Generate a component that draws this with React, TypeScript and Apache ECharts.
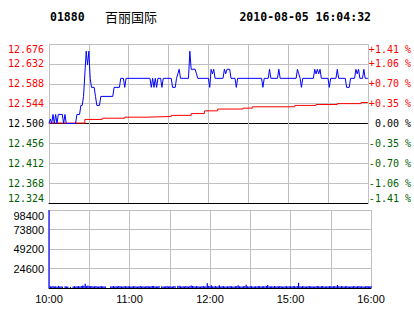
import React, { useEffect, useRef } from 'react';
import * as echarts from 'echarts';

const stockCode = '01880';
const stockName = '百丽国际';
const timestamp = '2010-08-05 16:04:32';

// top-to-bottom tick labels of the price panel
const priceTickLabels = ['12.676', '12.632', '12.588', '12.544', '12.500', '12.456', '12.412', '12.368', '12.324'];
const pctTickLabels = ['+1.41 %', '+1.06 %', '+0.70 %', '+0.35 %', '\u00a00.00 %', '-0.35 %', '-0.70 %', '-1.06 %', '-1.41 %'];
// one label per half-hour tick (minutes since open)
const timeTickLabels = ['10:00', '', '11:00', '', '12:00', '', '15:00', '', '16:00'];

const priceMin = 12.324;
const priceMax = 12.676;
const volMax = 98400;
const volStep = 24600;
const sessionMinutes = 240;

// [minute, price]
const priceLine: [number, number][] = [
  [0, 12.50], [1, 12.51], [2, 12.50], [3, 12.52], [4, 12.50], [5, 12.52], [6, 12.50], [7, 12.52],
  [10, 12.52], [11, 12.50], [12, 12.52], [13, 12.50], [20, 12.50], [21, 12.52], [23, 12.52],
  [24, 12.54], [25, 12.54], [26, 12.56], [27, 12.61], [28, 12.66], [29, 12.63], [30, 12.66],
  [31, 12.60], [32, 12.58], [34, 12.58], [35, 12.56], [36, 12.54], [38, 12.54], [39, 12.56],
  [48, 12.56], [49, 12.58], [53, 12.58], [54, 12.60], [56, 12.60], [57, 12.58], [58, 12.60],
  [76, 12.60], [77, 12.58], [78, 12.60], [79, 12.58], [80, 12.60], [81, 12.58], [82, 12.60],
  [84, 12.60], [85, 12.58], [86, 12.60], [92, 12.60], [93, 12.58], [95, 12.58], [96, 12.60],
  [97, 12.61], [98, 12.62], [99, 12.60], [105, 12.60], [106, 12.66], [107, 12.62], [110, 12.62],
  [111, 12.61], [112, 12.60], [120, 12.60], [121, 12.58], [122, 12.62], [123, 12.61], [124, 12.62],
  [125, 12.60], [131, 12.60], [132, 12.62], [133, 12.61], [134, 12.62], [136, 12.62], [137, 12.60],
  [140, 12.60], [141, 12.58], [142, 12.60], [160, 12.60], [161, 12.58], [162, 12.60], [165, 12.60],
  [166, 12.62], [167, 12.60], [172, 12.60], [173, 12.62], [174, 12.60], [186, 12.60], [187, 12.62],
  [188, 12.61], [189, 12.60], [190, 12.58], [191, 12.60], [199, 12.60], [200, 12.62], [201, 12.61],
  [202, 12.62], [203, 12.61], [204, 12.62], [205, 12.60], [210, 12.60], [211, 12.58], [212, 12.60],
  [216, 12.60], [217, 12.62], [218, 12.60], [223, 12.60], [224, 12.58], [226, 12.58], [227, 12.60],
  [230, 12.60], [231, 12.62], [232, 12.61], [233, 12.62], [234, 12.60], [236, 12.60], [237, 12.62],
  [238, 12.60], [240, 12.60],
];

// [minute, average price]
const avgLine: [number, number][] = [
  [0, 12.501], [27, 12.509], [40, 12.5117], [57, 12.514], [73, 12.5155], [92, 12.518],
  [107, 12.522], [117, 12.528], [127, 12.532], [146, 12.534], [153, 12.537], [185, 12.540],
  [201, 12.542], [217, 12.544], [235, 12.5465], [240, 12.5465],
];

// per-minute volume
const volumes: number[] = [
  98400, 2200, 1800, 2400, 2000, 2200, 1600, 2400, 2000, 2200, 1800, 0, 2200, 2000, 1800, 0, 1500, 0, 2000, 2400,
  1800, 2200, 2400, 2000, 2600, 3000, 2800, 5500, 2400, 3000, 2600, 2200, 2400, 2000, 2200, 2400, 1800, 2000, 2200, 2400,
  2000, 2200, 1800, 0, 0, 0, 2200, 2000, 2400, 1800, 2200, 2000, 2400, 2200, 2000, 1800, 2200, 2400, 2000, 2200,
  2200, 1800, 2000, 2400, 2200, 2000, 1800, 2200, 2400, 2000, 2200, 1800, 2000, 2400, 2200, 2000, 2200, 2600, 2400, 2000,
  2200, 2000, 2400, 0, 2200, 2000, 1800, 2200, 2400, 2000, 2200, 2000, 1800, 2400, 2200, 0, 2600, 2800, 2200, 2000,
  2200, 2000, 2400, 2200, 1800, 2400, 3200, 2600, 2200, 2000, 2400, 2200, 1800, 2000, 2200, 2400, 2000, 2200, 6000, 2400,
  2200, 3500, 2200, 2000, 2400, 1800, 2200, 3500, 2000, 2200, 2400, 2000, 1800, 2200, 2000, 2400, 2200, 2000, 1800, 2200,
  2400, 3500, 2200, 2000, 1800, 2200, 2400, 4200, 2200, 2000, 2200, 2400, 2000, 1800, 2200, 2000, 2400, 2200, 2000, 2200,
  2200, 2000, 2400, 3800, 2200, 2000, 2200, 1800, 2400, 2000, 2200, 2000, 2400, 2200, 1800, 2000, 2200, 2400, 2000, 2200,
  2200, 2000, 2400, 2200, 2000, 2400, 6500, 2200, 2000, 2400, 2200, 1800, 2000, 2200, 2400, 2000, 2200, 1800, 2000, 2200,
  2400, 2200, 2000, 2200, 2400, 2000, 1800, 2200, 2000, 2400, 2200, 2000, 2200, 2400, 2000, 3800, 2200, 2000, 2400, 2200,
  2000, 2200, 2400, 2000, 1800, 2200, 2000, 2400, 2200, 2000, 2200, 2400, 2000, 2200, 1800, 2000, 2200, 2400, 2200, 2000,
  2400,
];

const GRAY = '#c0c0c0';
const RED = '#ff0000';
const GREEN = '#006000';
const BLUE = '#0000ff';
const MONO = '"DejaVu Sans Mono", monospace';
const SANS = '"Liberation Sans", Arial, sans-serif';

const levelColor = (v: any) => {
  const n = Number(v);
  return n > 4 ? RED : n === 4 ? '#000000' : GREEN;
};

export default function App() {
  const ref = useRef<HTMLDivElement>(null);
  useEffect(() => {
    if (!ref.current) return;
    const chart = echarts.init(ref.current, null, { renderer: 'svg' });
    const steps = priceTickLabels.length - 1;
    chart.setOption({
      animation: false,
      backgroundColor: '#ffffff',
      grid: [
        { left: 49, right: 43, top: 44, height: 159 },
        { left: 49, right: 43, top: 210, height: 78 },
      ],
      xAxis: [
        {
          gridIndex: 0, type: 'value', min: 0, max: sessionMinutes, interval: 30,
          axisLine: { show: true, onZero: false, lineStyle: { color: '#000', width: 1 } },
          axisTick: { show: false }, axisLabel: { show: false },
          splitLine: { show: true, lineStyle: { color: GRAY, width: 1 } },
        },
        {
          gridIndex: 1, type: 'value', min: 0, max: sessionMinutes, interval: 30,
          axisLine: { show: true, onZero: false, lineStyle: { color: '#000', width: 1 } },
          axisTick: { show: false },
          axisLabel: {
            show: true, color: '#000', fontFamily: SANS, fontSize: 11, margin: 5,
            showMinLabel: true, showMaxLabel: true, hideOverlap: false,
            formatter: (v: number) => timeTickLabels[Math.round(v / 30)] ?? '',
          },
          splitLine: { show: true, lineStyle: { color: GRAY, width: 1 } },
        },
      ],
      yAxis: [
        {
          gridIndex: 0, type: 'value', position: 'left', min: 0, max: steps, interval: 1,
          axisLine: { show: false }, axisTick: { show: false },
          axisLabel: {
            fontFamily: MONO, fontSize: 10, margin: 5, color: levelColor,
            verticalAlignMinLabel: 'bottom', verticalAlignMaxLabel: 'top',
            formatter: (v: number) => priceTickLabels[steps - Math.round(v)],
          },
          splitLine: {
            show: true,
            lineStyle: { width: 1, color: ['#000000', GRAY, GRAY, GRAY, '#000000', GRAY, GRAY, GRAY, GRAY] },
          },
        },
        {
          gridIndex: 0, type: 'value', position: 'right', min: 0, max: steps, interval: 1,
          axisLine: { show: false }, axisTick: { show: false },
          axisLabel: {
            fontFamily: MONO, fontSize: 10, margin: 1, color: levelColor,
            verticalAlignMinLabel: 'bottom', verticalAlignMaxLabel: 'top',
            formatter: (v: number) => pctTickLabels[steps - Math.round(v)],
          },
          splitLine: { show: false },
        },
        { gridIndex: 0, type: 'value', show: false, min: priceMin, max: priceMax },
        {
          gridIndex: 1, type: 'value', min: 0, max: volMax, interval: volStep,
          axisLine: { show: false }, axisTick: { show: false },
          axisLabel: {
            fontFamily: SANS, fontSize: 11, margin: 5, color: '#000',
            verticalAlignMaxLabel: 'top',
            formatter: (v: number) => (v === 0 ? '' : String(v)),
          },
          splitLine: { show: true, lineStyle: { color: GRAY, width: 1 } },
        },
      ],
      series: [
        {
          type: 'line', xAxisIndex: 0, yAxisIndex: 2, data: avgLine, step: 'end',
          symbol: 'none', lineStyle: { color: RED, width: 1 }, z: 3,
        },
        {
          type: 'line', xAxisIndex: 0, yAxisIndex: 2, data: priceLine,
          symbol: 'none', lineStyle: { color: BLUE, width: 1 }, z: 4,
        },
        {
          type: 'bar', xAxisIndex: 1, yAxisIndex: 3, barWidth: 1.2, clip: false,
          data: volumes.map((v, i) => [i, v]),
          itemStyle: { color: BLUE },
        },
      ],
      graphic: [
        {
          type: 'text', x: 50, y: 17,
          style: { text: stockCode, font: `bold 11.5px ${MONO}`, fill: '#000', verticalAlign: 'middle', align: 'left' },
        },
        {
          type: 'text', x: 105, y: 16,
          style: { text: stockName, font: '13px "Noto Sans CJK SC"', fill: '#000', verticalAlign: 'middle', align: 'left' },
        },
        {
          type: 'text', x: 371, y: 17,
          style: { text: timestamp, font: `bold 11.5px ${MONO}`, fill: '#000', verticalAlign: 'middle', align: 'right' },
        },
      ],
    });
    return () => chart.dispose();
  }, []);
  return (
    <div
      ref={ref}
      style={{ position: 'absolute', left: 0, top: 0, width: 414, height: 314, background: '#fff' }}
    />
  );
}
